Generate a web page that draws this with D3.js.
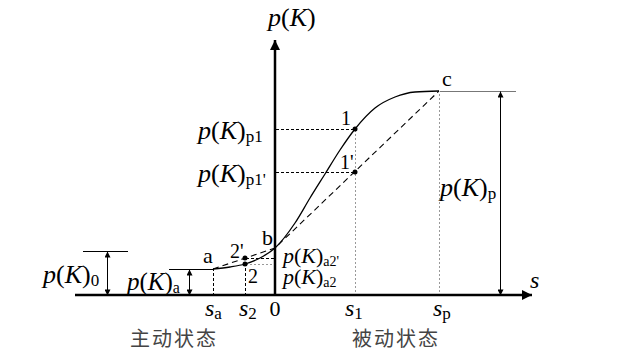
<!DOCTYPE html>
<html>
<head>
<meta charset="utf-8">
<script src="https://cdn.jsdelivr.net/npm/d3@7"></script>
<style>
  body { margin: 0; background: #fff; }
  text { font-family: "Liberation Serif", "DejaVu Serif", serif; fill: #000; }
  .cn { font-family: "Noto Sans CJK SC", sans-serif; fill: #444; }
</style>
</head>
<body>
<svg id="chart" width="620" height="352"></svg>
<script>
// S-curve (solid), in axis units: s horizontal, p(K) vertical
const curveS = [-62, -45, -30, -15, 0, 20, 35, 50, 65, 80, 100, 120, 140, 164];
const curveP = [26, 28, 31, 37, 47, 72, 97, 121, 145, 166, 187, 198, 203, 204];

// broken dashed line a -> b -> c
const brokenS = [-62, 0, 164];
const brokenP = [26, 47, 204];

// marked points 2, 2', 1, 1'
const markNames = ["2", "2'", "1", "1'"];
const markS = [-30, -30, 80, 80];
const markP = [31, 37, 166, 123];

// levels
const p0 = 44, pA = 26, pP = 204;
const sA = -62, s2 = -30, s1 = 80, sP = 164, sEnd = 240;

let svg = d3.select("#chart");

let x = d3.scaleLinear().domain([-200, 257]).range([75, 532]);
let y = d3.scaleLinear().domain([0, 255]).range([295, 40]);

// arrow markers
let defs = svg.append("defs");
defs.append("marker").attr("id", "big").attr("viewBox", "0 0 10 10")
    .attr("refX", 10).attr("refY", 5).attr("markerWidth", 10).attr("markerHeight", 10)
    .attr("markerUnits", "userSpaceOnUse").attr("orient", "auto")
    .append("path").attr("d", "M0,0L10,5L0,10Z").attr("fill", "#000");
defs.append("marker").attr("id", "small").attr("viewBox", "0 0 10 10")
    .attr("refX", 10).attr("refY", 5).attr("markerWidth", 7).attr("markerHeight", 6)
    .attr("markerUnits", "userSpaceOnUse").attr("orient", "auto-start-reverse")
    .append("path").attr("d", "M0,0L10,5L0,10Z").attr("fill", "#000");

function seg(s0, pa, s1_, pb, cls) {
    let l = svg.append("line")
        .attr("x1", Math.round(x(s0)) + 0.5).attr("y1", Math.round(y(pa)) + 0.5)
        .attr("x2", Math.round(x(s1_)) + 0.5).attr("y2", Math.round(y(pb)) + 0.5)
        .attr("shape-rendering", "crispEdges");
    if (cls == "dash") l.attr("stroke", "#000").attr("stroke-width", 1).attr("stroke-dasharray", "3,2");
    else if (cls == "dot") l.attr("stroke", "#999").attr("stroke-width", 1).attr("stroke-dasharray", "2,2");
    else l.attr("stroke", cls || "#000").attr("stroke-width", 1);
    return l;
}

// guide lines
seg(0, markP[2], s1, markP[2], "dash");
seg(0, markP[3], s1, markP[3], "dash");
seg(s2, markP[1], 0, markP[1], "dash");
seg(s2, markP[0], 0, markP[0], "dot");
seg(s1, 0, s1, markP[2], "dot");
seg(sP, 0, sP, pP, "dot");
seg(sA, 0, sA, pA, "dash");
seg(s2, 0, s2, markP[0], "dash");

// level lines
seg(sA - 45, pA, sA, pA);
seg(-193, p0, -148, p0);
seg(sP, pP, sEnd, pP, "#777");

// double arrows
function dbl(s, pa, pb) {
    seg(s, pa, s, pb).attr("shape-rendering", null)
        .attr("marker-start", "url(#small)").attr("marker-end", "url(#small)");
}
dbl(-168, 0, p0);
dbl(sA - 24, 0, pA);
dbl(225, 0, pP);

// curves
let line = d3.line().x(d => x(d[0])).y(d => y(d[1]));
svg.append("path")
    .attr("d", line.curve(d3.curveMonotoneX)(curveS.map((s, i) => [s, curveP[i]])))
    .attr("fill", "none").attr("stroke", "#000").attr("stroke-width", 1.3);
svg.append("path")
    .attr("d", d3.line().x(d => x(d[0])).y(d => y(d[1]))(brokenS.map((s, i) => [s, brokenP[i]])))
    .attr("fill", "none").attr("stroke", "#000").attr("stroke-width", 1.1)
    .attr("stroke-dasharray", "6,4");

// axes
svg.append("line").attr("x1", x(-200)).attr("y1", y(0)).attr("x2", x(257)).attr("y2", y(0))
    .attr("stroke", "#000").attr("stroke-width", 2.5).attr("marker-end", "url(#big)");
svg.append("line").attr("x1", x(0)).attr("y1", y(0) + 1).attr("x2", x(0)).attr("y2", y(255))
    .attr("stroke", "#000").attr("stroke-width", 2.5).attr("marker-end", "url(#big)");

// points
svg.selectAll(".pt").data(markS).enter().append("circle")
    .attr("cx", d => x(d)).attr("cy", (d, i) => y(markP[i])).attr("r", 2.5).attr("fill", "#000");

// labels
function pk(px, py, sub, fs) {
    let t = svg.append("text").attr("x", px).attr("y", py).attr("font-size", fs);
    t.append("tspan").attr("font-style", "italic").text("p");
    t.append("tspan").text("(");
    t.append("tspan").attr("font-style", "italic").text("K");
    t.append("tspan").text(")");
    if (sub) t.append("tspan").attr("font-size", Math.round(fs * 0.64)).attr("dy", 3).text(sub);
}
function sLab(px, sub) {
    let t = svg.append("text").attr("x", px).attr("y", 316).attr("font-size", 24);
    t.append("tspan").attr("font-style", "italic").text("s");
    t.append("tspan").attr("font-size", 17).attr("dy", 3).text(sub);
}
function lab(px, py, str, fs) {
    svg.append("text").attr("x", px).attr("y", py).attr("font-size", fs).text(str);
}

pk(268, 26, null, 26);
pk(198, 139, "p1", 26);
pk(198, 182, "p1'", 26);
pk(440, 196, "p", 26);
pk(283, 263, "a2'", 22);
pk(283, 284, "a2", 22);
pk(43, 283, "0", 26);
pk(127, 290, "a", 25);

lab(x(sA) - 10, 263, "a", 22);
lab(x(0) - 13, 245, "b", 22);
lab(x(sP) + 3, 86, "c", 22);
markNames.forEach((n, i) => {
    let dx = [3, -15, -14, -15][i];
    let py = [283, 258, 125, 169][i];
    lab(x(markS[i]) + dx, py, n, 20);
});

svg.append("text").attr("x", 530).attr("y", 288).attr("font-size", 24)
    .attr("font-style", "italic").text("s");
sLab(x(sA) - 8, "a");
sLab(x(s2) - 6, "2");
sLab(x(s1) - 10, "1");
sLab(x(sP) - 6, "p");
svg.append("text").attr("x", x(0)).attr("y", 316).attr("font-size", 22)
    .attr("text-anchor", "middle").text("0");

svg.append("text").attr("class", "cn").attr("x", 130).attr("y", 346)
    .attr("font-size", 20).attr("letter-spacing", 2).text("主动状态");
svg.append("text").attr("class", "cn").attr("x", 352).attr("y", 346)
    .attr("font-size", 20).attr("letter-spacing", 2).text("被动状态");
</script>
</body>
</html>
